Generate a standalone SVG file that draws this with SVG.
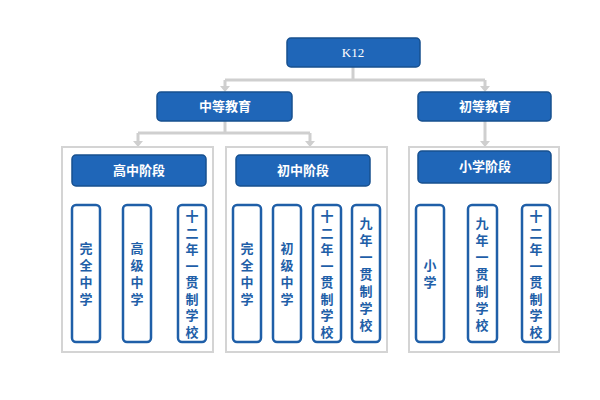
<svg xmlns="http://www.w3.org/2000/svg" width="600" height="400" viewBox="0 0 600 400">
<style>
.hd{fill:#1f66b8;stroke:#17508f;stroke-width:1.5}
.ht{fill:#fff;font:bold 13px "Noto Sans CJK SC",sans-serif;text-anchor:middle}
.ct{fill:none;stroke:#d4d4d4;stroke-width:2}
.col{fill:#fff;stroke:#1f5fa8;stroke-width:2.5}
.vt{fill:#1f5fa8;font:bold 13px "Noto Sans CJK SC",sans-serif;text-anchor:middle;writing-mode:vertical-rl;letter-spacing:4px}
.v8{letter-spacing:3.5px;font-size:13px}
.ln{fill:none;stroke:#cfcfcf;stroke-width:3}
.ah{fill:#cfcfcf}
</style>
<rect width="600" height="400" fill="#fff"/>
<g id="connectors">
<path class="ln" d="M353,67V80M225,80H485M225,80V86M485,80V86"/>
<path class="ln" d="M225,121V133M138,133H310M138,133V141M310,133V141M485,121V141"/>
<path class="ah" d="M220,86h10l-5,6zM480,86h10l-5,6zM133,141h10l-5,6zM305,141h10l-5,6zM480,141h10l-5,6z"/>
</g>
<rect class="ct" x="62" y="147" width="151" height="205"/>
<rect class="ct" x="226" y="147" width="161" height="205"/>
<rect class="ct" x="409" y="147" width="150" height="205"/>
<g id="k12"><rect class="hd" x="287" y="38" width="133" height="29" rx="4"/><text class="ht" x="353" y="57" style="font-family:'Liberation Serif',serif;font-weight:normal">K12</text></g>
<g id="zhong"><rect class="hd" x="157" y="92" width="135" height="29" rx="4"/><text class="ht" x="225" y="111">中等教育</text></g>
<g id="chu"><rect class="hd" x="418" y="92" width="133" height="29" rx="4"/><text class="ht" x="485" y="111">初等教育</text></g>
<g id="gzjd"><rect class="hd" x="72" y="155" width="134" height="31" rx="4"/><text class="ht" x="139" y="175">高中阶段</text></g>
<g id="czjd"><rect class="hd" x="236" y="155" width="134" height="31" rx="4"/><text class="ht" x="303" y="175">初中阶段</text></g>
<g id="xxjd"><rect class="hd" x="418" y="151" width="133" height="32" rx="4"/><text class="ht" x="485" y="171">小学阶段</text></g>
<g id="c1"><rect class="col" x="72" y="205" width="28" height="137" rx="4"/><text class="vt" x="86" y="276">完全中学</text></g>
<g id="c2"><rect class="col" x="123" y="205" width="28" height="137" rx="4"/><text class="vt" x="137" y="276">高级中学</text></g>
<g id="c3"><rect class="col" x="178" y="205" width="28" height="137" rx="4"/><text class="vt v8" x="192" y="276">十二年一贯制学校</text></g>
<g id="c4"><rect class="col" x="233" y="205" width="28" height="137" rx="4"/><text class="vt" x="247" y="276">完全中学</text></g>
<g id="c5"><rect class="col" x="273" y="205" width="28" height="137" rx="4"/><text class="vt" x="287" y="276">初级中学</text></g>
<g id="c6"><rect class="col" x="313" y="205" width="28" height="137" rx="4"/><text class="vt v8" x="327" y="276">十二年一贯制学校</text></g>
<g id="c7"><rect class="col" x="352" y="205" width="28" height="137" rx="4"/><text class="vt" x="366" y="276">九年一贯制学校</text></g>
<g id="c8"><rect class="col" x="416" y="205" width="28" height="137" rx="4"/><text class="vt" x="430" y="276">小学</text></g>
<g id="c9"><rect class="col" x="468" y="205" width="29" height="137" rx="4"/><text class="vt" x="482" y="276">九年一贯制学校</text></g>
<g id="c10"><rect class="col" x="522" y="205" width="28" height="137" rx="4"/><text class="vt v8" x="536" y="276">十二年一贯制学校</text></g>
</svg>
